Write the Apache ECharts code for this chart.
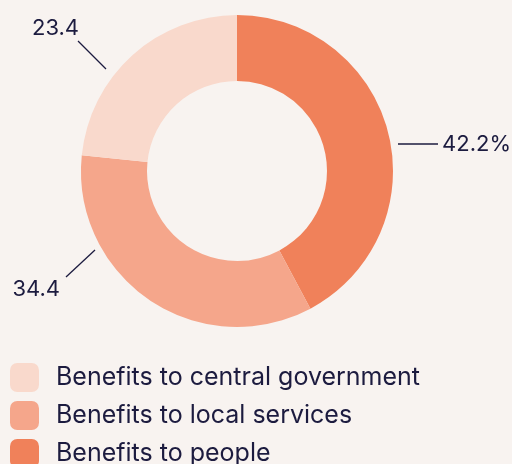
<!DOCTYPE html>
<html>
<head>
<meta charset="utf-8">
<script src="https://cdn.jsdelivr.net/npm/echarts@6/dist/echarts.min.js"></script>
<style>
  html, body { margin: 0; padding: 0; background: #f8f3f0; }
  #chart { width: 512px; height: 464px; }
</style>
</head>
<body>
<div id="chart"></div>
<script>
// Share of benefits by recipient
const categories = ['Benefits to people', 'Benefits to local services', 'Benefits to central government'];
const values = [42.2, 34.4, 23.4];
const labelTexts = ['42.2%', '34.4', '23.4'];
const legendOrder = ['Benefits to central government', 'Benefits to local services', 'Benefits to people'];
const colors = ['#f0815a', '#f5a68b', '#f9d9cc'];

const textColor = '#1c1b3f';
const cx = 237, cy = 171;

// Label anchors as offsets from the ring centre: text point and leader line
const labelSpots = [
  { tx: 205, ty: -27, align: 'left',  line: [[161, -27], [201, -27]] },
  { tx: -177, ty: 118, align: 'right', line: [[-142, 79], [-171, 106]] },
  { tx: -205, ty: -143, align: 'left', line: [[-131, -102], [-159, -130]] }
];

const chart = echarts.init(document.getElementById('chart'));
chart.setOption({
  backgroundColor: '#f8f3f0',
  animation: false,
  color: colors,
  legend: {
    orient: 'vertical',
    left: 10,
    top: 363,
    height: 200,
    padding: 0,
    data: legendOrder,
    icon: 'roundRect',
    itemWidth: 29,
    itemHeight: 29,
    itemGap: 9,
    textStyle: {
      color: textColor,
      fontFamily: 'Inter, Liberation Sans, sans-serif',
      fontSize: 25,
      padding: [0, 0, 0, 12]
    }
  },
  series: [{
    type: 'pie',
    center: [cx, cy],
    radius: [90, 156],
    startAngle: 90,
    clockwise: true,
    avoidLabelOverlap: false,
    itemStyle: { borderWidth: 0 },
    label: {
      show: true,
      position: 'outside',
      color: textColor,
      fontFamily: 'Inter, Liberation Sans, sans-serif',
      fontSize: 22,
      formatter: p => labelTexts[p.dataIndex]
    },
    labelLine: {
      show: true,
      lineStyle: { color: textColor, width: 1.3 }
    },
    labelLayout: function (p) {
      const s = labelSpots[p.dataIndex];
      return {
        x: cx + s.tx,
        y: cy + s.ty,
        align: s.align,
        verticalAlign: 'middle',
        labelLinePoints: s.line.map(pt => [cx + pt[0], cy + pt[1]])
      };
    },
    emphasis: { disabled: true },
    data: categories.map((name, i) => ({ name: name, value: values[i] }))
  }]
});
</script>
</body>
</html>
